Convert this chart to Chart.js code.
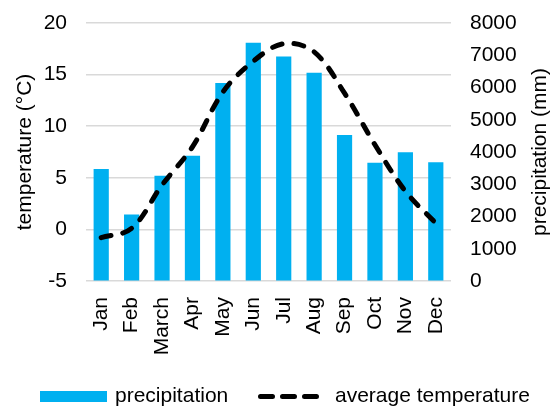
<!DOCTYPE html>
<html>
<head>
<meta charset="utf-8">
<script src="https://cdn.jsdelivr.net/npm/chart.js@4"></script>
<style>
html,body{margin:0;padding:0;background:#fff;}
#wrap{width:553px;height:408px;}
</style>
</head>
<body>
<div id="wrap"><canvas id="c" width="553" height="408"></canvas></div>
<script>
const months = ["Jan","Feb","March","Apr","May","Jun","Jul","Aug","Sep","Oct","Nov","Dec"];
const precipitation = [3470,2060,3260,3880,6140,7390,6960,6460,4530,3670,3990,3680];
const avgTemperature = [-0.8,0.1,4.3,8.0,13.3,16.3,18.0,17.2,13.2,8.2,3.7,0.6];
const tempTicks = {min:-5,max:20,step:5};
const precTicks = {min:0,max:8000,step:1000};
const seriesNames = ["precipitation","average temperature"];
const axisTitles = ["temperature (°C)","precipitation (mm)"];

const FONT = "'Liberation Sans', Arial, sans-serif";
const TXT = '#000000';
const BLUE = '#00B0F0';

const extras = {
  id:'extras',
  afterDraw(chart){
    const ctx = chart.ctx;
    const ca = chart.chartArea;
    ctx.save();
    ctx.font = '21px ' + FONT;
    ctx.fillStyle = TXT;
    ctx.textAlign = 'center';
    ctx.textBaseline = 'middle';
    ctx.translate(540, (ca.top+ca.bottom)/2);
    ctx.rotate(-Math.PI/2);
    ctx.fillText(axisTitles[1], 0, 0);
    ctx.restore();

    ctx.save();
    const ly = 396.5;
    ctx.fillStyle = BLUE;
    ctx.fillRect(40, 391, 67, 11);
    ctx.font = '21px ' + FONT;
    ctx.fillStyle = TXT;
    ctx.textAlign = 'left';
    ctx.textBaseline = 'middle';
    ctx.fillText(seriesNames[0], 115, ly);
    ctx.strokeStyle = '#000';
    ctx.lineWidth = 5;
    ctx.lineCap = 'round';
    ctx.setLineDash([12,10]);
    ctx.beginPath();
    ctx.moveTo(260.5, ly);
    ctx.lineTo(317, ly);
    ctx.stroke();
    ctx.setLineDash([]);
    ctx.fillText(seriesNames[1], 335, ly);
    ctx.restore();
  }
};

new Chart(document.getElementById('c'), {
  type:'bar',
  data:{
    labels: months,
    datasets:[
      {
        type:'line',
        label: seriesNames[1],
        data: avgTemperature,
        yAxisID:'y',
        borderColor:'#000',
        borderWidth:5,
        borderDash:[10,12],
        borderCapStyle:'round',
        pointRadius:0,
        tension:0.35,
        fill:false,
        order:0
      },
      {
        type:'bar',
        label: seriesNames[0],
        data: precipitation,
        yAxisID:'y1',
        backgroundColor: BLUE,
        barPercentage:0.5,
        categoryPercentage:1.0,
        order:1
      }
    ]
  },
  plugins:[extras],
  options:{
    responsive:false,
    animation:false,
    devicePixelRatio:1,
    layout:{padding:{top:23,left:0,right:0,bottom:0}},
    plugins:{legend:{display:false},tooltip:{enabled:false}},
    scales:{
      x:{
        grid:{display:false, drawTicks:false},
        border:{display:false},
        ticks:{
          minRotation:90, maxRotation:90, autoSkip:false,
          padding:16, color:TXT, font:{family:FONT, size:21}
        },
        afterFit(s){ s.height = 127; }
      },
      y:{
        position:'left',
        min:tempTicks.min, max:tempTicks.max,
        grid:{color:'#D9D9D9', lineWidth:1.5, drawTicks:true, tickLength:19, tickColor:'rgba(0,0,0,0)'},
        border:{display:false},
        ticks:{stepSize:tempTicks.step, padding:0, color:TXT, font:{family:FONT, size:21}},
        title:{display:true, text:axisTitles[0], color:TXT, font:{family:FONT, size:21}, padding:{top:13, bottom:0}},
        afterFit(s){ s.width = 86; }
      },
      y1:{
        position:'right',
        min:precTicks.min, max:precTicks.max,
        grid:{display:true, drawOnChartArea:false, color:'rgba(0,0,0,0)', drawTicks:true, tickLength:19, tickColor:'rgba(0,0,0,0)'},
        border:{display:false},
        ticks:{stepSize:precTicks.step, padding:0, color:TXT, font:{family:FONT, size:21},
          callback:(v)=>String(v)},
        afterFit(s){ s.width = 102; }
      }
    }
  }
});
</script>
</body>
</html>
